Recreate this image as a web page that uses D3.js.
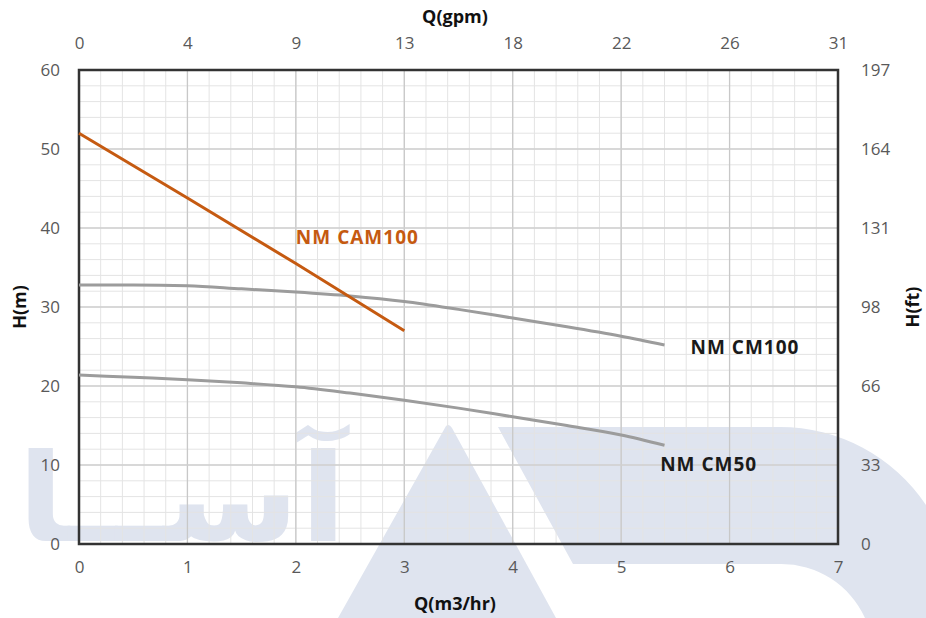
<!DOCTYPE html>
<html>
<head>
<meta charset="utf-8">
<script src="https://cdn.jsdelivr.net/npm/d3@7"></script>
<style>
  body { margin: 0; background: #fff; }
  svg text { font-family: "Open Sans", "DejaVu Sans", sans-serif; }
</style>
</head>
<body>
<svg id="chart" width="926" height="618"></svg>
<script>
// Tick values and labels:
var qTicks = [0, 1, 2, 3, 4, 5, 6, 7];
var gpmTicks = [0, 4, 9, 13, 18, 22, 26, 31];
var hTicks = [0, 10, 20, 30, 40, 50, 60];
var ftTicks = [0, 33, 66, 98, 131, 164, 197];

// Pump curves (Q in m3/hr, H in m):
var cam100Q = [0, 1, 2, 3];
var cam100H = [52, 43.8, 35.5, 27.0];
var cm100Q = [0, 0.5, 1, 1.5, 2, 2.5, 3, 3.5, 4, 4.5, 5, 5.4];
var cm100H = [32.8, 32.8, 32.7, 32.3, 31.9, 31.4, 30.7, 29.7, 28.6, 27.5, 26.3, 25.2];
var cm50Q = [0, 0.5, 1, 1.5, 2, 2.5, 3, 3.5, 4, 4.5, 5, 5.4];
var cm50H = [21.4, 21.1, 20.8, 20.4, 19.9, 19.1, 18.2, 17.2, 16.1, 15.0, 13.8, 12.5];

// Curve labels (anchored in data coordinates):
var curveLabels = [
  { name: "NM CAM100", q: 2.0, h: 38.9, color: "#c55a11" },
  { name: "NM CM100", q: 5.64, h: 24.9, color: "#1a1a1a" },
  { name: "NM CM50", q: 5.36, h: 10.1, color: "#1a1a1a" }
];

var svg = d3.select("#chart");
var margin = { left: 79, right: 88, top: 70, bottom: 74 };
var width = 926 - margin.left - margin.right;
var height = 618 - margin.top - margin.bottom;

var x = d3.scaleLinear().domain([0, 7]).range([margin.left, margin.left + width]);
var y = d3.scaleLinear().domain([0, 60]).range([margin.top + height, margin.top]);

// The watermark behind everything (logo shapes and text):
var wm = svg.append("g").attr("fill", "#dfe4ef");
wm.append("path")
  .attr("d", "M446,426 Q449,423 452,428 L556,618 L338,618 Z");
wm.append("path")
  .attr("d", "M498,427 L780,427 A176,176 0 0 1 926,505 L926,618 L865,618 " +
             "A92,92 0 0 0 780,564 L573,564 Z");
// Right-to-left text: with direction rtl, "start" is the right edge.
wm.append("text")
  .attr("x", 347).attr("y", 541)
  .attr("direction", "rtl")
  .attr("text-anchor", "start")
  .attr("textLength", 330)
  .attr("lengthAdjust", "spacingAndGlyphs")
  .style("font-family", "DejaVu Sans")
  .style("font-weight", "bold")
  .style("font-size", "122px")
  .text("آســا");

// Grid lines, minor first then major:
var grid = svg.append("g");
grid.selectAll(".vminor").data(d3.range(1, 35).map(function(i) { return i * 0.2; }))
  .enter().append("line")
  .attr("x1", function(d) { return x(d); }).attr("x2", function(d) { return x(d); })
  .attr("y1", y(0)).attr("y2", y(60))
  .attr("stroke", "#e4e4e4").attr("stroke-width", 1);
grid.selectAll(".hminor").data(d3.range(1, 30).map(function(i) { return i * 2; }))
  .enter().append("line")
  .attr("y1", function(d) { return y(d); }).attr("y2", function(d) { return y(d); })
  .attr("x1", x(0)).attr("x2", x(7))
  .attr("stroke", "#e4e4e4").attr("stroke-width", 1);
grid.selectAll(".vmajor").data(qTicks)
  .enter().append("line")
  .attr("x1", function(d) { return x(d); }).attr("x2", function(d) { return x(d); })
  .attr("y1", y(0)).attr("y2", y(60))
  .attr("stroke", "#c8c8c8").attr("stroke-width", 1.3);
grid.selectAll(".hmajor").data(hTicks)
  .enter().append("line")
  .attr("y1", function(d) { return y(d); }).attr("y2", function(d) { return y(d); })
  .attr("x1", x(0)).attr("x2", x(7))
  .attr("stroke", "#cfcfcf").attr("stroke-width", 1.5);

// Frame around the plot:
svg.append("rect")
  .attr("x", x(0)).attr("y", y(60))
  .attr("width", x(7) - x(0)).attr("height", y(0) - y(60))
  .attr("fill", "none").attr("stroke", "#333").attr("stroke-width", 2.5);

// Axes (labels only, the frame draws the domain):
function styleAxis(g) {
  g.select(".domain").remove();
  g.selectAll(".tick line").remove();
  g.selectAll(".tick text")
    .attr("fill", "#595959")
    .style("font-size", "17px");
}
svg.append("g")
  .attr("transform", "translate(0," + (y(0) + 8) + ")")
  .call(d3.axisBottom(x).tickValues(qTicks).tickFormat(d3.format("d")))
  .call(styleAxis);
svg.append("g")
  .attr("transform", "translate(0," + (y(60) - 12) + ")")
  .call(d3.axisTop(x).tickValues(qTicks).tickFormat(function(d, i) { return gpmTicks[i]; }))
  .call(styleAxis);
svg.append("g")
  .attr("transform", "translate(" + (x(0) - 10) + ",0)")
  .call(d3.axisLeft(y).tickValues(hTicks).tickFormat(d3.format("d")))
  .call(styleAxis);
svg.append("g")
  .attr("transform", "translate(" + (x(7) + 14) + ",0)")
  .call(d3.axisRight(y).tickValues(hTicks).tickFormat(function(d, i) { return ftTicks[i]; }))
  .call(styleAxis);

// Axis titles:
var titleStyle = function(t) {
  t.attr("text-anchor", "middle").attr("dominant-baseline", "central")
    .attr("fill", "#111").style("font-size", "18px").style("font-weight", "bold");
};
svg.append("text").attr("x", 455).attr("y", 16).text("Q(gpm)").call(titleStyle);
svg.append("text").attr("x", 455).attr("y", 603).text("Q(m3/hr)").call(titleStyle);
svg.append("text").attr("transform", "translate(19,307) rotate(-90)").text("H(m)").call(titleStyle);
svg.append("text").attr("transform", "translate(912,307) rotate(-90)").text("H(ft)").call(titleStyle);

// The curves:
function toPoints(qs, hs) { return qs.map(function(q, i) { return [q, hs[i]]; }); }
var smooth = d3.line()
  .x(function(d) { return x(d[0]); }).y(function(d) { return y(d[1]); })
  .curve(d3.curveMonotoneX);
var straight = d3.line()
  .x(function(d) { return x(d[0]); }).y(function(d) { return y(d[1]); });

svg.append("path").datum(toPoints(cm100Q, cm100H))
  .attr("d", smooth).attr("fill", "none").attr("stroke", "#9c9c9c").attr("stroke-width", 3);
svg.append("path").datum(toPoints(cm50Q, cm50H))
  .attr("d", smooth).attr("fill", "none").attr("stroke", "#9c9c9c").attr("stroke-width", 3);
svg.append("path").datum(toPoints(cam100Q, cam100H))
  .attr("d", straight).attr("fill", "none").attr("stroke", "#c55a11").attr("stroke-width", 3);

// Curve names:
svg.selectAll(".curve-label").data(curveLabels)
  .enter().append("text")
  .attr("x", function(d) { return x(d.q); })
  .attr("y", function(d) { return y(d.h); })
  .attr("dominant-baseline", "central")
  .attr("fill", function(d) { return d.color; })
  .style("font-size", "19px").style("font-weight", "bold")
  .style("letter-spacing", "1px")
  .text(function(d) { return d.name; });
</script>
</body>
</html>
